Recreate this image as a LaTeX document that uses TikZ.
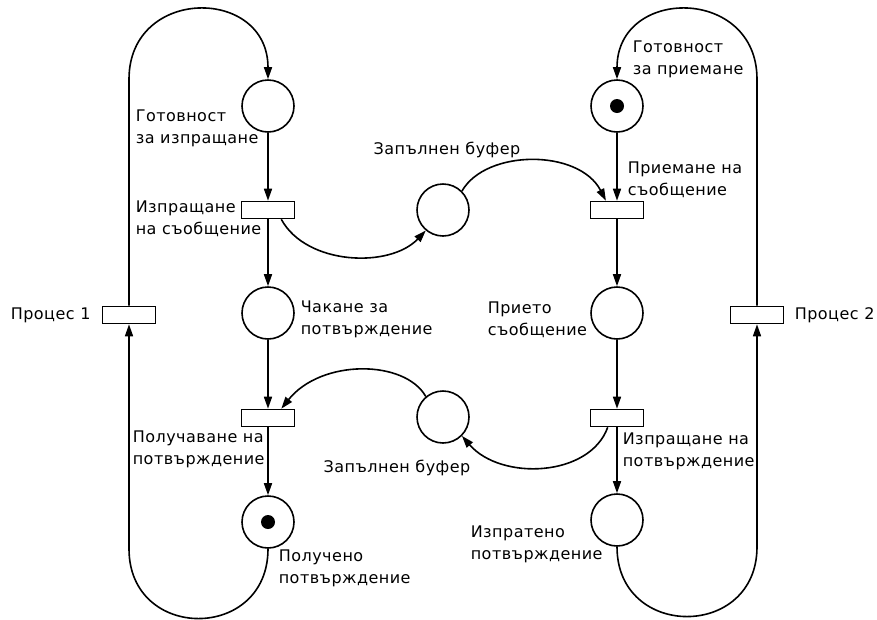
\documentclass[tikz,border=0pt]{standalone}
\usepackage{fontspec}
\setmainfont{DejaVu Sans}[LetterSpace=3]
\usetikzlibrary{arrows.meta}

\begin{document}
\begin{tikzpicture}[x=1pt, y=-1pt, every node/.style={font=\fontsize{16}{22}\selectfont}, >={Triangle[length=12pt,width=8pt]}, line width=1.6pt,
	place/.style={draw, circle, minimum size=52pt, inner sep=0pt},
	trans/.style={draw, rectangle, minimum width=53pt, minimum height=17pt, inner sep=0pt},
	token/.style={fill, circle, minimum size=14pt, inner sep=0pt},
	lbl/.style={anchor=west, align=left, inner sep=0pt}]
	\useasboundingbox (0,0) rectangle (877,619);
	\node[place] (rdys) at (268,106) {};
	\node[trans] (send) at (268,210) {};
	\node[place] (wait) at (268,313) {};
	\node[trans] (getack) at (268,418) {};
	\node[place] (gotack) at (268,522) {};
	\node[token] (tok1) at (gotack) {};
	\node[trans] (proc1) at (129,315) {};
	\node[place] (buf1) at (443,210) {};
	\node[place] (buf2) at (443,417) {};
	\node[place] (rdyr) at (617,106) {};
	\node[token] (tok2) at (rdyr) {};
	\node[trans] (recv) at (617,210) {};
	\node[place] (got) at (617,313) {};
	\node[trans] (sendack) at (617,418) {};
	\node[place] (sentack) at (617,520) {};
	\node[trans] (proc2) at (757,315) {};
	\draw[->] (rdys) -- (send);
	\draw[->] (send) -- (wait);
	\draw[->] (wait) -- (getack);
	\draw[->] (getack) -- (gotack);
	\draw[->] (rdyr) -- (recv);
	\draw[->] (recv) -- (got);
	\draw[->] (got) -- (sendack);
	\draw[->] (sendack) -- (sentack);
	\draw[->] (send.-35) .. controls +(25,46) and +(-36,38) .. (buf1.230);
	\draw[->] (buf1.45) .. controls +(24,-42) and +(-27,-52) .. (recv.140);
	\draw[->] (sendack.-135) .. controls +(-18,50) and +(39,45) .. (buf2.-45);
	\draw[->] (buf2.130) .. controls +(-21,-37) and +(40,-50) .. (getack.35);
	\draw[->] (proc1) -- (proc1 |- rdys.north) .. controls +(0,-93) and +(0,-93) .. (rdys.north);
	\draw[->] (gotack.south) .. controls +(0,93) and +(0,93) .. (proc1 |- gotack.south) -- (proc1);
	\draw[->] (proc2) -- (proc2 |- rdyr.north) .. controls +(0,-93) and +(0,-93) .. (rdyr.north);
	\draw[->] (sentack.south) .. controls +(0,93) and +(0,93) .. (proc2 |- sentack.south) -- (proc2);
	\node[lbl] (lrdys) at (135,128) {Готовност\\за изпращане};
	\node[lbl] (lsend) at (135,219) {Изпращане\\на съобщение};
	\node (lbuf1) at (447,150) {Запълнен буфер};
	\node[lbl] (lrdyr) at (632,59) {Готовност\\за приемане};
	\node[lbl] (lrecv) at (627,180) {Приемане на\\съобщение};
	\node[lbl] (lproc1) at (10,315) {Процес 1};
	\node[lbl] (lwait) at (300,319) {Чакане за\\потвърждение};
	\node[lbl] (lgot) at (487,320) {Прието\\съобщение};
	\node[lbl] (lproc2) at (794,315) {Процес 2};
	\node[lbl] (lgetack) at (132,449) {Получаване на\\потвърждение};
	\node (lbuf2) at (397,468) {Запълнен буфер};
	\node[lbl] (lsendack) at (622,451) {Изпращане на\\потвърждение};
	\node[lbl] (lgotack) at (278,568) {Получено\\потвърждение};
	\node[lbl] (lsentack) at (470,544) {Изпратено\\потвърждение};
\end{tikzpicture}
\end{document}
